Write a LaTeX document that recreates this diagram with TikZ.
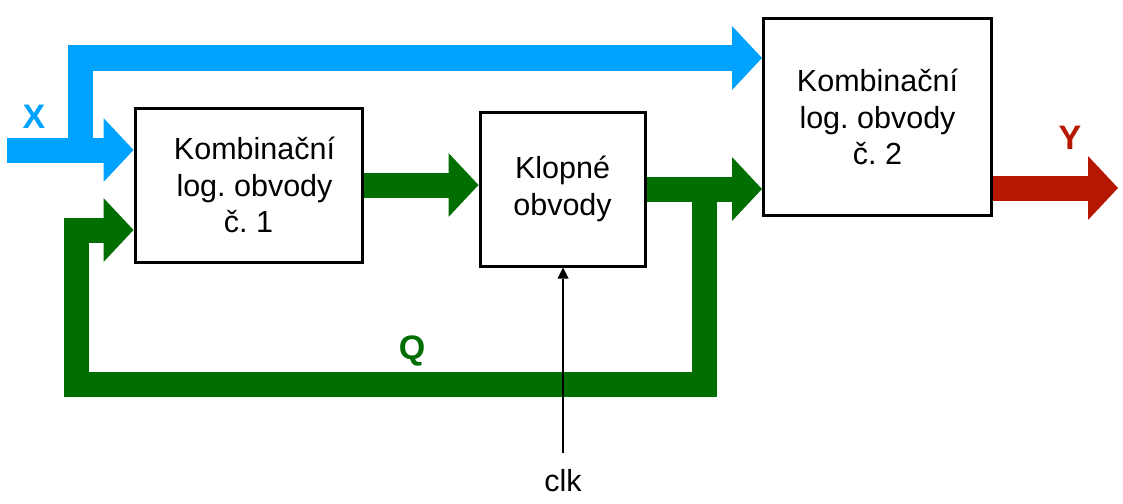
\documentclass[tikz,border=0pt]{standalone}
\usepackage{fontspec}
\setmainfont{Liberation Sans}
\usetikzlibrary{arrows.meta}
\definecolor{xblue}{RGB}{0,162,255}
\definecolor{qgreen}{RGB}{0,110,0}
\definecolor{yred}{RGB}{181,23,0}
\frenchspacing
\begin{document}
\begin{tikzpicture}[x=1pt,y=-1pt,
  box/.style={draw, line width=3pt, align=center, inner sep=0pt,
    font=\fontsize{30.5}{36.5}\selectfont},
  bus/.style={line width=25pt, line join=miter,
    -{Triangle[length=30pt,width=64pt,line width=0pt]}},
  lbl/.style={font=\fontsize{34}{40}\selectfont\bfseries},
  clkarrow/.style={line width=2pt, -{Triangle[length=11pt,width=11pt,line width=0pt]}}]
\useasboundingbox (0,0) rectangle (1123,503);

\node[box, minimum width=227pt, minimum height=154pt] (b1) at (248.5,185) {\hspace*{12pt}Kombinační\\\hspace*{12pt}log. obvody\\č. 1};
\node[box, minimum width=165pt, minimum height=154pt] (b2) at (562.5,189) {Klopné\\obvody};
\node[box, minimum width=228pt, minimum height=197pt] (b3) at (877.5,117) {Kombinační\\log. obvody\\č. 2};

% X input
\coordinate (xin) at (7,150);
\coordinate (xsplit) at (80,150);
\coordinate (xtop) at (80,58);
\draw[bus, xblue] (xin) -- (xin -| b1.west);
\draw[bus, xblue] (xsplit) -- (xtop) -- (xtop -| b3.west);
\node[lbl, text=xblue] (xl) at (34,117) {X};

% internal green
\draw[bus, qgreen] (b1.east) -- (b1.east -| b2.west);
\coordinate (qsplit) at (704,189);
\draw[bus, qgreen] (b2.east) -- (b2.east -| b3.west);
\coordinate (qc1) at (704,384);
\coordinate (qc2) at (76,384);
\coordinate (qc3) at (76,230);
\draw[bus, qgreen] (qsplit) -- (qc1) -- (qc2) -- (qc3) -- (qc3 -| b1.west);
\node[lbl, text=qgreen] (ql) at (412,351) {Q};

% output Y
\coordinate (yout) at (1118,188);
\draw[bus, yred] (b3.east |- yout) -- (yout);
\node[lbl, text=yred] (yl) at (1070,138) {Y};

% clock
\node[font=\fontsize{30.5}{34}\selectfont, inner sep=0pt] (clk) at (563,481) {clk};
\coordinate (clkstart) at (563,453);
\draw[clkarrow] (clkstart) -- (clkstart |- b2.south);
\end{tikzpicture}
\end{document}
